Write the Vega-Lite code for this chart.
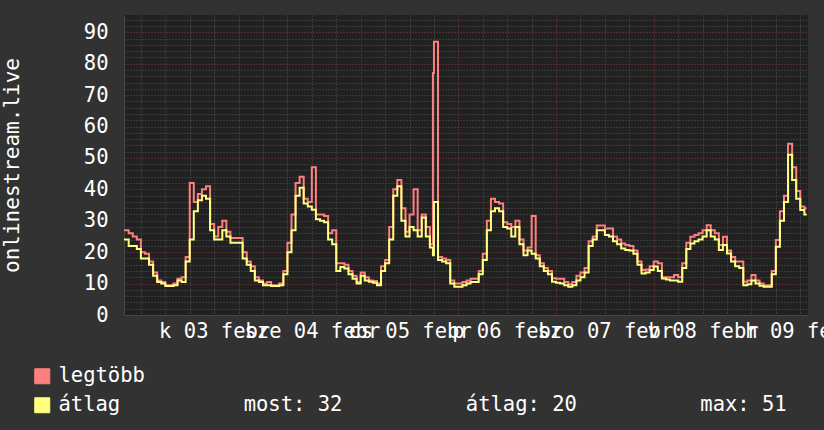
{
  "$schema": "https://vega.github.io/schema/vega-lite/v6.json",
  "width": 684,
  "height": 300,
  "autosize": {"type": "none"},
  "padding": {"left": 124, "top": 15, "right": 16, "bottom": 115},
  "background": "#323232",
  "config": {
    "font": "DejaVu Sans Mono",
    "view": {"fill": "#212121", "stroke": null}
  },
  "data": {"values": [
    {"t": -10.15, "avg": 24, "max": 27},
    {"t": -9, "avg": 22, "max": 26},
    {"t": -8, "avg": 22, "max": 25},
    {"t": -7, "avg": 21, "max": 24},
    {"t": -6, "avg": 18, "max": 20},
    {"t": -5, "avg": 18, "max": 19.5},
    {"t": -4, "avg": 16, "max": 17},
    {"t": -3, "avg": 12.5, "max": 13.5},
    {"t": -2, "avg": 10.5, "max": 11},
    {"t": -1, "avg": 10, "max": 10.5},
    {"t": 0, "avg": 9.2, "max": 9.5},
    {"t": 1, "avg": 9.2, "max": 9.5},
    {"t": 2, "avg": 9.5, "max": 10},
    {"t": 3, "avg": 11, "max": 11.5},
    {"t": 4, "avg": 10.5, "max": 12},
    {"t": 5, "avg": 17, "max": 18.5},
    {"t": 6, "avg": 24, "max": 42},
    {"t": 7, "avg": 33, "max": 36},
    {"t": 8, "avg": 36.5, "max": 38.5},
    {"t": 9, "avg": 38, "max": 40},
    {"t": 10, "avg": 37, "max": 41},
    {"t": 11, "avg": 27, "max": 29},
    {"t": 12, "avg": 24, "max": 25},
    {"t": 13, "avg": 24, "max": 28},
    {"t": 14, "avg": 27, "max": 30},
    {"t": 15, "avg": 25, "max": 26.5},
    {"t": 16, "avg": 23, "max": 24.5},
    {"t": 17, "avg": 23, "max": 24.5},
    {"t": 18, "avg": 23, "max": 24.5},
    {"t": 19, "avg": 18, "max": 20},
    {"t": 20, "avg": 16, "max": 17},
    {"t": 21, "avg": 14, "max": 15.5},
    {"t": 22, "avg": 11, "max": 12},
    {"t": 23, "avg": 10.5, "max": 11},
    {"t": 24, "avg": 9.5, "max": 10},
    {"t": 25, "avg": 9.5, "max": 10.5},
    {"t": 26, "avg": 9.2, "max": 9.5},
    {"t": 27, "avg": 9.2, "max": 9.5},
    {"t": 28, "avg": 9.5, "max": 10},
    {"t": 29, "avg": 13, "max": 14},
    {"t": 30, "avg": 20, "max": 23},
    {"t": 31, "avg": 27, "max": 32},
    {"t": 32, "avg": 38, "max": 42},
    {"t": 33, "avg": 40.5, "max": 44},
    {"t": 34, "avg": 35.5, "max": 37},
    {"t": 35, "avg": 34.5, "max": 36},
    {"t": 36, "avg": 33.5, "max": 47},
    {"t": 37, "avg": 30.5, "max": 32},
    {"t": 38, "avg": 30, "max": 32},
    {"t": 39, "avg": 29.5, "max": 31.5},
    {"t": 40, "avg": 24, "max": 26},
    {"t": 41, "avg": 22.5, "max": 27},
    {"t": 42, "avg": 14, "max": 16.5},
    {"t": 43, "avg": 15.3, "max": 16.5},
    {"t": 44, "avg": 14.8, "max": 16},
    {"t": 45, "avg": 13, "max": 14},
    {"t": 46, "avg": 11.5, "max": 12.5},
    {"t": 47, "avg": 10, "max": 10.5},
    {"t": 48, "avg": 12.5, "max": 13.5},
    {"t": 49, "avg": 11, "max": 12},
    {"t": 50, "avg": 10.6, "max": 11},
    {"t": 51, "avg": 10.3, "max": 10.8},
    {"t": 52, "avg": 9.5, "max": 10},
    {"t": 53, "avg": 14, "max": 15.5},
    {"t": 54, "avg": 16.5, "max": 17.5},
    {"t": 55, "avg": 24, "max": 28},
    {"t": 56, "avg": 38, "max": 40},
    {"t": 57, "avg": 41, "max": 43},
    {"t": 58, "avg": 30, "max": 34},
    {"t": 59, "avg": 25, "max": 26.5},
    {"t": 60, "avg": 28, "max": 32},
    {"t": 61, "avg": 27, "max": 40},
    {"t": 62, "avg": 25, "max": 27},
    {"t": 63, "avg": 31, "max": 32},
    {"t": 64, "avg": 25, "max": 28},
    {"t": 65, "avg": 21.5, "max": 22.5},
    {"t": 65.75, "avg": 19, "max": 77},
    {"t": 66, "avg": 36, "max": 87},
    {"t": 67, "avg": 17.5, "max": 18.5},
    {"t": 68, "avg": 17, "max": 18},
    {"t": 69, "avg": 16.5, "max": 17.5},
    {"t": 70, "avg": 10, "max": 11},
    {"t": 71, "avg": 9, "max": 10},
    {"t": 72, "avg": 9, "max": 10},
    {"t": 73, "avg": 9.5, "max": 10.5},
    {"t": 74, "avg": 10, "max": 11},
    {"t": 75, "avg": 10.5, "max": 11.5},
    {"t": 76, "avg": 10.5, "max": 11.5},
    {"t": 77, "avg": 13, "max": 14},
    {"t": 78, "avg": 17.5, "max": 19.5},
    {"t": 79, "avg": 27, "max": 30},
    {"t": 80, "avg": 33, "max": 37},
    {"t": 81, "avg": 34, "max": 36},
    {"t": 82, "avg": 33, "max": 35.5},
    {"t": 83, "avg": 28, "max": 29.5},
    {"t": 84, "avg": 27.5, "max": 29},
    {"t": 85, "avg": 25, "max": 28},
    {"t": 86, "avg": 28, "max": 30},
    {"t": 87, "avg": 22.5, "max": 24},
    {"t": 88, "avg": 19, "max": 20.5},
    {"t": 89, "avg": 20.5, "max": 21.5},
    {"t": 90, "avg": 19.5, "max": 31.5},
    {"t": 91, "avg": 18, "max": 19},
    {"t": 92, "avg": 15.5, "max": 16.5},
    {"t": 93, "avg": 14, "max": 15},
    {"t": 94, "avg": 13, "max": 14},
    {"t": 95, "avg": 10.6, "max": 11.7},
    {"t": 96, "avg": 10.3, "max": 11.5},
    {"t": 97, "avg": 10, "max": 11.5},
    {"t": 98, "avg": 9.5, "max": 10.5},
    {"t": 99, "avg": 9, "max": 9.8},
    {"t": 100, "avg": 9.5, "max": 10.5},
    {"t": 101, "avg": 11, "max": 12.5},
    {"t": 102, "avg": 12, "max": 13.5},
    {"t": 103, "avg": 13.5, "max": 15},
    {"t": 104, "avg": 22, "max": 23.5},
    {"t": 105, "avg": 24, "max": 25},
    {"t": 106, "avg": 27, "max": 28.5},
    {"t": 107, "avg": 27, "max": 28.5},
    {"t": 108, "avg": 25.5, "max": 27.5},
    {"t": 109, "avg": 25, "max": 27.5},
    {"t": 110, "avg": 23.5, "max": 25},
    {"t": 111, "avg": 22.5, "max": 24},
    {"t": 112, "avg": 21.2, "max": 22.8},
    {"t": 113, "avg": 20.7, "max": 22.3},
    {"t": 114, "avg": 20.5, "max": 22},
    {"t": 115, "avg": 19.5, "max": 20.5},
    {"t": 116, "avg": 16, "max": 17},
    {"t": 117, "avg": 13.2, "max": 14.3},
    {"t": 118, "avg": 13.5, "max": 14.5},
    {"t": 119, "avg": 14.3, "max": 15.5},
    {"t": 120, "avg": 15.4, "max": 17},
    {"t": 121, "avg": 14, "max": 16.5},
    {"t": 122, "avg": 11.6, "max": 12},
    {"t": 123, "avg": 11.3, "max": 12},
    {"t": 124, "avg": 11, "max": 12},
    {"t": 125, "avg": 11, "max": 12.7},
    {"t": 126, "avg": 10.6, "max": 12},
    {"t": 127, "avg": 15, "max": 16.5},
    {"t": 128, "avg": 21, "max": 23},
    {"t": 129, "avg": 22.8, "max": 24.9},
    {"t": 130, "avg": 23.5, "max": 25.5},
    {"t": 131, "avg": 24, "max": 26},
    {"t": 132, "avg": 25, "max": 27},
    {"t": 133, "avg": 27, "max": 28.6},
    {"t": 134, "avg": 25, "max": 27},
    {"t": 135, "avg": 24, "max": 26},
    {"t": 136, "avg": 20.7, "max": 22.3},
    {"t": 137, "avg": 22.3, "max": 24.9},
    {"t": 138, "avg": 19.6, "max": 20.5},
    {"t": 139, "avg": 17, "max": 18.5},
    {"t": 140, "avg": 15.5, "max": 17},
    {"t": 141, "avg": 15, "max": 17},
    {"t": 142, "avg": 9.5, "max": 10.6},
    {"t": 143, "avg": 9.8, "max": 11},
    {"t": 144, "avg": 11, "max": 12.7},
    {"t": 145, "avg": 10, "max": 11},
    {"t": 146, "avg": 9.3, "max": 10},
    {"t": 147, "avg": 9, "max": 9.5},
    {"t": 148, "avg": 9, "max": 9.5},
    {"t": 149, "avg": 13, "max": 14},
    {"t": 150, "avg": 21.7, "max": 23.9},
    {"t": 151, "avg": 30, "max": 33},
    {"t": 152, "avg": 36, "max": 38},
    {"t": 153, "avg": 51, "max": 54.5},
    {"t": 154, "avg": 43, "max": 47},
    {"t": 155, "avg": 37, "max": 39.5},
    {"t": 156, "avg": 33.4, "max": 34.5},
    {"t": 157, "avg": 32, "max": 34},
    {"t": 157.6, "avg": 32, "max": 34}
  ]},
  "transform": [{"fold": ["max", "avg"], "as": ["series", "value"]}],
  "mark": {"type": "line", "interpolate": "step-after", "strokeWidth": 2, "clip": true},
  "encoding": {
    "x": {
      "field": "t", "type": "quantitative",
      "scale": {"domain": [-10.15, 157.9], "nice": false, "zero": false},
      "axis": {
        "title": null,
        "values": [-6, 0, 6, 12, 18, 24, 30, 36, 42, 48, 54, 60, 66, 72, 78, 84, 90, 96, 102, 108, 114, 120, 126, 132, 138, 144, 150, 156],
        "grid": true,
        "gridColor": {"condition": {"test": "datum.value % 24 === 0", "value": "#803838"}, "value": "#555555"},
        "gridDash": [1, 2],
        "gridWidth": 1,
        "ticks": false,
        "domain": true,
        "domainColor": "#484848",
        "labelExpr": "datum.value % 24 === 12 ? ['k','sze','cs','p','szo','v','h'][(datum.value-12)/24] + ' 0' + ((datum.value-12)/24+3) + ' febr' : ''",
        "labelOverlap": false,
        "labelBound": false,
        "labelFlush": false,
        "labelColor": "#ffffff",
        "labelFontSize": 20.5,
        "labelPadding": 6,
        "labelBaseline": "top",
        "labelAlign": "center"
      }
    },
    "y": {
      "field": "value", "type": "quantitative",
      "scale": {"domain": [0, 95.5], "nice": false, "zero": true},
      "axis": {
        "title": "onlinestream.live",
        "titleColor": "#ffffff",
        "titleFontSize": 21,
        "titleFontWeight": "normal",
        "titleX": -106,
        "titleY": 150,
        "titleAngle": -90,
        "titleAlign": "center",
        "titleBaseline": "alphabetic",
        "values": [0, 2, 4, 6, 8, 10, 12, 14, 16, 18, 20, 22, 24, 26, 28, 30, 32, 34, 36, 38, 40, 42, 44, 46, 48, 50, 52, 54, 56, 58, 60, 62, 64, 66, 68, 70, 72, 74, 76, 78, 80, 82, 84, 86, 88, 90, 92, 94],
        "grid": true,
        "gridColor": {"condition": {"test": "datum.value % 10 === 0", "value": "#803838"}, "value": "#555555"},
        "gridDash": [1, 2],
        "ticks": false,
        "domain": true,
        "domainColor": "#484848",
        "labelExpr": "datum.value % 10 === 0 ? datum.label : ''",
        "labelOverlap": false,
        "labelColor": "#ffffff",
        "labelFontSize": 20.5,
        "labelPadding": 16
      }
    },
    "color": {
      "field": "series", "type": "nominal",
      "scale": {"domain": ["max", "avg"], "range": ["#ff7f7f", "#ffff80"]},
      "legend": {
        "orient": "none",
        "legendX": -92,
        "legendY": 351,
        "direction": "vertical",
        "title": null,
        "symbolType": "square",
        "symbolSize": 225,
        "symbolStrokeWidth": 1,
        "labelFontSize": 20.5,
        "labelColor": "#ffffff",
        "labelOffset": 6,
        "labelLimit": 1000,
        "rowPadding": 8,
        "labelExpr": "datum.label === 'max' ? 'legtöbb' : 'átlag\u00a0\u00a0\u00a0\u00a0\u00a0\u00a0\u00a0\u00a0\u00a0\u00a0most: 32\u00a0\u00a0\u00a0\u00a0\u00a0\u00a0\u00a0\u00a0\u00a0\u00a0átlag: 20\u00a0\u00a0\u00a0\u00a0\u00a0\u00a0\u00a0\u00a0\u00a0\u00a0max: 51'",
        "encode": {
          "symbols": {
            "update": {
              "fill": {"scale": "color", "field": "value"},
              "stroke": {"value": "#000000"},
              "strokeWidth": {"value": 1},
              "opacity": {"value": 1}
            }
          }
        }
      }
    }
  }
}
